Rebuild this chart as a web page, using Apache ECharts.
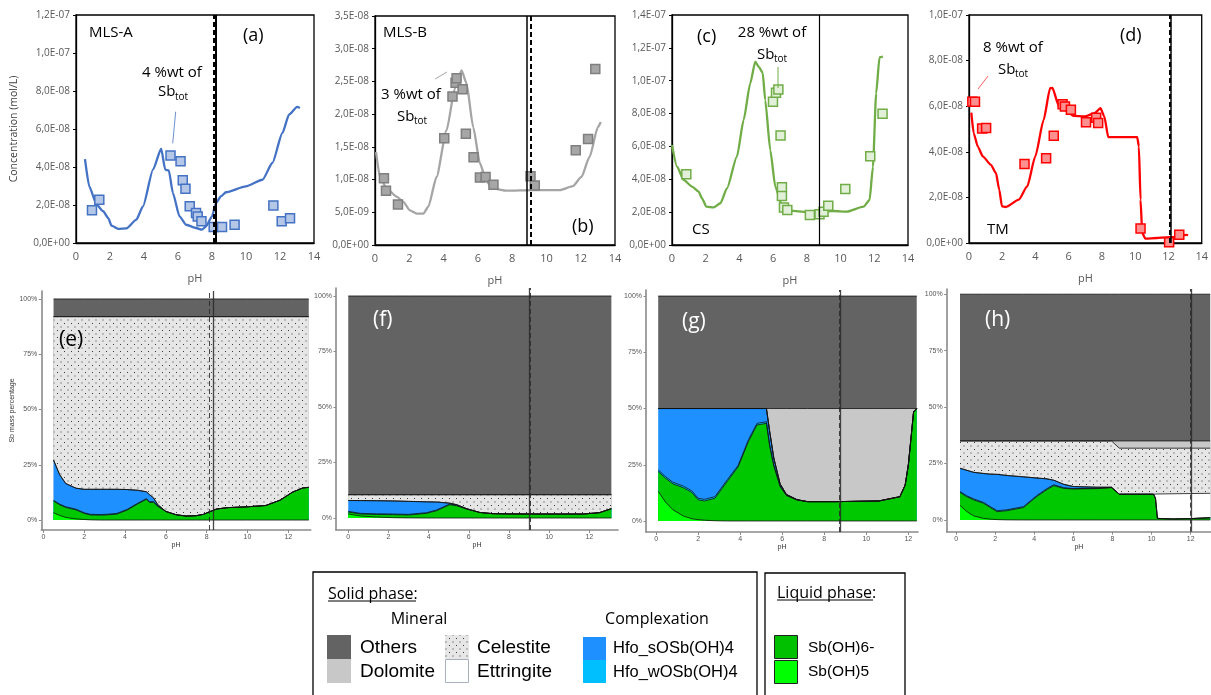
<!DOCTYPE html>
<html><head><meta charset="utf-8">
<script src="https://cdn.jsdelivr.net/npm/echarts@6/dist/echarts.min.js"></script>
<style>html,body{margin:0;padding:0;background:#fff}#c{width:1211px;height:695px}</style>
</head><body><div id="c"></div>
<script>
// ---------- Top panels: dissolved Sb (units of 1e-8 mol/L) ----------
const phLineA = [0.53,0.78,1.21,1.6,1.89,2.09,2.48,2.97,3.55,3.94,4.53,5.01,5.25,5.46,5.7,6.09,6.48,7.06,7.41,7.65,8.0,8.23,8.53,8.82,9.99,10.97,11.55,12.14,12.53,13.01,13.17];
const concLineA = [4.42,2.98,2.02,1.67,1.32,0.91,0.74,0.77,1.23,1.93,3.86,4.96,3.86,3.82,2.63,1.40,0.96,0.79,0.70,0.88,1.40,2.10,2.46,2.67,2.98,3.33,4.21,5.79,6.75,7.16,7.10];
const phObsA = [0.94,1.37,5.56,6.15,6.28,6.44,6.69,7.06,7.16,7.38,8.10,8.59,9.33,11.61,12.10,12.59];
const concObsA = [1.72,2.28,4.61,4.30,3.30,2.86,1.93,1.58,1.40,1.14,0.84,0.84,0.96,1.98,1.14,1.30];

const phLineB = [0.06,0.29,0.68,1.26,1.65,2.04,2.43,2.82,3.11,3.59,4.17,4.66,5.05,5.34,5.73,6.12,6.5,6.89,7.67,9.22,10.78,11.55,12.04,12.52,13.0,13.17];
const concLineB = [1.42,1.04,0.865,0.74,0.66,0.53,0.48,0.48,0.585,1.04,1.75,2.39,2.67,2.47,1.80,1.25,0.97,0.865,0.83,0.84,0.84,0.90,1.04,1.35,1.80,1.88];
const phObsB = [0.52,0.64,1.34,4.04,4.52,4.70,4.76,5.11,5.30,5.75,6.12,6.45,6.91,9.07,9.32,11.71,12.43,12.85];
const concObsB = [1.02,0.83,0.62,1.63,2.27,2.48,2.55,2.38,1.70,1.34,1.03,1.04,0.92,1.05,0.91,1.45,1.62,2.69];

const phLineC = [0,0.3,0.69,1.19,1.58,1.78,2.04,2.47,2.87,3.26,3.85,4.25,4.64,4.94,5.14,5.38,5.53,5.83,6.13,6.52,7.02,8.0,9.58,10.38,11.36,11.72,11.92,12.11,12.31,12.51];
const concLineC = [6.09,4.77,3.96,3.55,3.25,2.84,2.33,2.29,2.54,3.45,5.38,7.61,9.84,11.16,10.85,10.49,8.82,5.78,3.55,2.43,2.09,2.01,2.07,2.03,2.33,2.74,4.77,9.23,11.42,11.46];
const phObsC = [0.85,5.99,6.17,6.31,6.44,6.52,6.52,6.64,6.84,8.18,8.75,8.99,9.27,10.28,11.76,12.49];
const concObsC = [4.30,8.72,9.27,9.47,6.67,3.51,2.98,2.29,2.13,1.83,1.87,2.03,2.39,3.41,5.40,7.99];

const phLineD = [0.14,0.28,0.53,0.83,1.32,1.62,1.82,1.98,2.21,3.0,3.5,3.99,4.49,4.88,5.02,5.38,5.87,6.26,6.96,7.55,7.91,8.14,8.38,9.72,10.12,10.22,10.32,10.42,10.61,11.3,11.9,12.29,13.08,13.18];
const concLineD = [5.72,4.82,4.23,3.80,3.43,3.07,2.34,1.61,1.58,1.90,2.48,3.80,5.40,6.79,6.80,6.06,5.80,5.58,5.55,5.69,5.91,5.55,4.64,4.64,4.64,4.23,1.90,0.44,0.19,0.22,0.25,0.26,0.36,0.34];
const phObsD = [0.20,0.36,0.79,1.03,3.34,4.64,5.10,5.63,5.77,6.13,7.04,7.65,7.77,10.32,12.04,12.65];
const concObsD = [6.20,6.20,5.02,5.04,3.47,3.72,4.70,6.09,5.99,5.84,5.30,5.49,5.26,0.64,0.03,0.36];

// vertical reference lines (pH), panels a..h
const vlineSolid = [8.23, 8.83, 8.73, 12.13, 8.3, 9.0, 8.78, 12.02];
const vlineDashed = [8.1, 9.07, null, 12.06, 8.12, 9.08, 8.7, 11.97];

// ---------- Bottom panels: Sb mass percentage per phase (layer thickness, %) ----------
const layerNames = ['Sb(OH)5','Sb(OH)6-','Hfo_wOSb(OH)4','Hfo_sOSb(OH)4','Ettringite','Celestite','Dolomite','Others'];

const phE = [0.5,0.8,1.1,1.6,2.0,2.3,2.8,3.1,3.6,4.1,4.6,5.05,5.2,5.4,5.6,6.0,6.5,7.0,7.5,7.85,8.15,8.5,9.0,10.0,10.9,11.6,12.2,12.7,13.0];
const sb5E = [3.3,2.1,1.2,0.5,0.25,0.1,0,0,0,0,0,0,0,0,0,0,0,0,0,0,0,0,0,0,0,0,0,0,0];
const sb6E = [5.3,4.8,4.5,4.1,2.75,2.2,2.2,2.3,2.7,4.5,7.2,9.4,8.0,8.0,6.2,3.9,2.4,1.8,2.0,2.6,3.8,5.0,5.6,6.0,6.6,9.0,12.6,14.5,14.8];
const hfoWE = [0.3,0.3,0.3,0.3,0.3,0.3,0.3,0.3,0.3,0.3,0.3,0.3,0.3,0.3,0.3,0,0,0,0,0,0,0,0,0,0,0,0,0,0];
const hfoSE = [18.2,13.3,10.5,9.5,10.6,11.3,11.4,11.3,10.9,9.0,6.0,3.1,3.2,1.7,0.5,0,0,0,0,0,0,0,0,0,0,0,0,0,0];
const ettE = [0,0,0,0,0,0,0,0,0,0,0,0,0,0,0,0,0,0,0,0,0,0,0,0,0,0,0,0,0];
const celE = [64.9,71.5,75.5,77.6,78.1,78.1,78.1,78.1,78.1,78.2,78.5,79.2,80.5,82.0,85.0,88.1,89.6,90.2,90.0,89.4,88.2,87.0,86.4,86.0,85.4,83.0,79.4,77.5,77.2];
const dolE = [0,0,0,0,0,0,0,0,0,0,0,0,0,0,0,0,0,0,0,0,0,0,0,0,0,0,0,0,0];
const othE = [8,8,8,8,8,8,8,8,8,8,8,8,8,8,8,8,8,8,8,8,8,8,8,8,8,8,8,8,8];

const phF = [0,0.6,1.4,2.2,3.0,3.9,4.4,5.05,5.4,5.9,6.55,7.2,8.0,9.7,11.7,12.5,13.1];
const sb5F = [1.8,0.9,0.45,0.15,0.05,0,0,0,0,0,0,0,0,0,0,0,0];
const sb6F = [0.9,0.9,1.15,1.35,1.3,2.1,3.3,6.0,5.5,4.0,2.5,1.95,1.85,1.8,1.8,2.4,4.2];
const hfoWF = [0.3,0.3,0.3,0.3,0.3,0.3,0.3,0.3,0.3,0.1,0,0,0,0,0,0,0];
const hfoSF = [4.9,5.75,5.9,5.9,5.85,4.9,3.6,0.4,0.2,0.1,0,0,0,0,0,0,0];
const ettF = [0,0,0,0,0,0,0,0,0,0,0,0,0,0,0,0,0];
const celF = [2.6,2.65,2.7,2.8,3.0,3.2,3.3,3.8,4.5,6.3,8.0,8.55,8.65,8.7,8.7,8.1,6.3];
const dolF = [0,0,0,0,0,0,0,0,0,0,0,0,0,0,0,0,0];
const othF = [89.5,89.5,89.5,89.5,89.5,89.5,89.5,89.5,89.5,89.5,89.5,89.5,89.5,89.5,89.5,89.5,89.5];

const phG = [0.1,0.45,0.8,1.3,1.7,2.0,2.3,2.8,3.4,3.9,4.4,4.8,5.25,5.4,5.6,5.9,6.2,6.7,7.2,8.6,10.6,11.6,11.85,12.0,12.15,12.25,12.4];
const sb5G = [13.2,8.4,5.0,2.2,1.0,0.6,0.35,0.1,0,0,0,0,0,0,0,0,0,0,0,0,0,0,0,0,0,0,0];
const sb6G = [8.8,10.6,11.5,12.6,11.7,8.8,8.55,10.0,17.8,24.0,35.5,42.7,43.4,33.5,24.5,15.3,11.3,9.3,8.6,8.6,8.9,10.8,16.0,24.9,39.0,48.5,50.0];
const hfoWG = [0.7,0.7,0.7,0.7,0.7,0.7,0.7,0.7,0.7,0.7,0.7,0.7,0.7,0.5,0.4,0.3,0.2,0.1,0,0,0,0,0,0,0,0,0];
const hfoSG = [27.3,30.3,32.8,34.5,36.6,39.9,40.4,39.2,31.5,25.3,13.8,6.6,5.9,6.0,3.1,0.9,0.3,0.1,0,0,0,0,0,0,0,0,0];
const ettG = [0,0,0,0,0,0,0,0,0,0,0,0,0,0,0,0,0,0,0,0,0,0,0,0,0,0,0];
const celG = [0,0,0,0,0,0,0,0,0,0,0,0,0,0,0,0,0,0,0,0,0,0,0,0,0,0,0];
const dolG = [0,0,0,0,0,0,0,0,0,0,0,0,0,10.0,22.0,33.5,38.2,40.5,41.4,41.4,41.1,39.2,34.0,25.1,11.0,1.5,0];
const othG = [50,50,50,50,50,50,50,50,50,50,50,50,50,50,50,50,50,50,50,50,50,50,50,50,50,50,50];

const phH = [0.2,0.55,0.9,1.4,1.75,2.1,2.6,3.45,4.1,4.65,5.0,5.5,6.0,7.2,7.95,8.35,10.1,10.2,10.3,11.1,12.0,13.0];
const sb5H = [6.5,3.7,1.8,0.7,0.35,0.15,0.05,0,0,0,0,0,0,0,0,0,0,0,0,0,0,0];
const sb6H = [5.7,6.6,7.1,6.7,5.15,3.55,4.05,5.5,10.2,13.5,15.2,14.0,13.7,13.9,14.3,11.4,11.4,9.6,0.7,0.45,0.6,1.0];
const hfoWH = [0.4,0.4,0.4,0.4,0.4,0.4,0.4,0.4,0.4,0.4,0.4,0.3,0.2,0.1,0.1,0,0,0,0,0,0,0];
const hfoSH = [10.3,11.3,11.8,12.8,14.4,16.1,15.2,13.2,8.0,4.3,2.0,1.5,0.9,0.5,0.1,0,0,0,0,0,0,0];
const ettH = [0,0,0,0,0,0,0,0,0,0,0,0,0,0,0,0,0,1.8,10.8,11.15,11.1,10.8];
const celH = [12.1,13.0,13.9,14.4,14.7,14.8,15.3,15.9,16.4,16.8,17.4,19.2,20.2,20.5,20.5,20.4,20.4,20.4,20.3,20.2,20.1,20.0];
const dolH = [0,0,0,0,0,0,0,0,0,0,0,0,0,0,0,3.2,3.2,3.2,3.2,3.2,3.2,3.2];
const othH = [65,65,65,65,65,65,65,65,65,65,65,65,65,65,65,65,65,65,65,65,65,65];

const xTicksBottom = [0,2,4,6,8,10,12];
const yTicksBottom = [0,25,50,75,100];

// ---------- styling ----------
const dotCanvas = document.createElement('canvas');
dotCanvas.width = 7; dotCanvas.height = 7;
(function(){ const g = dotCanvas.getContext('2d'); g.fillStyle = '#e6e6e6'; g.fillRect(0,0,7,7);
  g.fillStyle = '#3a3a3a'; g.fillRect(1,1,1,1); g.fillRect(4.5,4.5,1,1); })();
const celPattern = {image: dotCanvas, repeat: 'repeat'};
const layerColors = ['#00ff00','#00c800','#00bfff','#1e90ff','#ffffff',celPattern,'#c8c8c8','#636363'];

const FONT = '"Open Sans", sans-serif';
const ARIAL = '"Liberation Sans", Arial, sans-serif';

function fmtE(v){
  if (Math.abs(v) < 1e-9) return '0,0E+00';
  const s = (v*1e-8).toExponential(1);
  const parts = s.split('e');
  const e = parseInt(parts[1],10);
  return parts[0].replace('.',',') + 'E' + (e<0?'-':'+') + String(Math.abs(e)).padStart(2,'0');
}

const topPanels = [
  {grid:{left:76,top:15,width:238,height:228}, ymax:12, yint:2, lph:phLineA, lc:concLineA, oph:phObsA, oc:concObsA, lineColor:'#4472c4', fill:'#b4c7e7', border:'#4472c4', yname:'Concentration (mol/L)', solidW:2, dashW:2},
  {grid:{left:375,top:16,width:240,height:229}, ymax:3.5, yint:0.5, lph:phLineB, lc:concLineB, oph:phObsB, oc:concObsB, lineColor:'#a5a5a5', fill:'#a6a6a6', border:'#7f7f7f', yname:'', solidW:1.5, dashW:2},
  {grid:{left:672,top:15,width:236,height:230}, ymax:14, yint:2, lph:phLineC, lc:concLineC, oph:phObsC, oc:concObsC, lineColor:'#70ad47', fill:'#e2f0d9', border:'#70ad47', yname:'', solidW:1.2, dashW:2},
  {grid:{left:969,top:15,width:236,height:228}, ymax:10, yint:2, lph:phLineD, lc:concLineD, oph:phObsD, oc:concObsD, lineColor:'#ff0000', fill:'#ff9090', border:'#ff0000', yname:'', solidW:1.5, dashW:2}
];
const bottomPanels = [
  {grid:{left:41.3,top:291,width:269.5,height:239}, xmin:-0.1, xmax:13.1, ymin:-4.5, ymax:103.6, ph:phE, layers:[sb5E,sb6E,hfoWE,hfoSE,ettE,celE,dolE,othE], yname:'Sb mass percentage'},
  {grid:{left:336,top:288,width:282,height:242}, xmin:-0.61, xmax:13.43, ymin:-5.4, ymax:103.6, ph:phF, layers:[sb5F,sb6F,hfoWF,hfoSF,ettF,celF,dolF,othF], yname:''},
  {grid:{left:646,top:290,width:272,height:242}, xmin:-0.48, xmax:12.46, ymin:-4.9, ymax:102.7, ph:phG, layers:[sb5G,sb6G,hfoWG,hfoSG,ettG,celG,dolG,othG], yname:''},
  {grid:{left:946.7,top:289,width:264.5,height:242.7}, xmin:-0.48, xmax:13.04, ymin:-5.2, ymax:102.3, ph:phH, layers:[sb5H,sb6H,hfoWH,hfoSH,ettH,celH,dolH,othH], yname:''}
];

const grids = [], xAxes = [], yAxes = [], series = [];

function vMark(i, solidW, dashW, solidColor, dashColor){
  const d = [];
  if (vlineDashed[i] != null) d.push({xAxis: vlineDashed[i], lineStyle:{type:[5,3], width:dashW, color:dashColor}});
  if (vlineSolid[i] != null) d.push({xAxis: vlineSolid[i], lineStyle:{type:'solid', width:solidW, color:solidColor}});
  return {silent:true, symbol:['none','none'], label:{show:false}, animation:false, data:d};
}

topPanels.forEach((p, i) => {
  grids.push(Object.assign({show:true, borderColor:'#000', borderWidth:1.3, backgroundColor:'transparent'}, p.grid));
  xAxes.push({type:'value', gridIndex:i, min:0, max:14, interval:2,
    axisLine:{show:true, lineStyle:{color:'#000', width:1.3}}, axisTick:{show:false}, splitLine:{show:false},
    axisLabel:{fontSize:11, color:'#595959', fontFamily:FONT, margin:8},
    name:'pH', nameLocation:'middle', nameGap:30, nameTextStyle:{fontSize:11, color:'#595959', fontFamily:FONT}});
  yAxes.push({type:'value', gridIndex:i, min:0, max:p.ymax, interval:p.yint,
    axisLine:{show:true, lineStyle:{color:'#000', width:1.3}}, axisTick:{show:true, length:3, lineStyle:{color:'#000'}}, splitLine:{show:false},
    axisLabel:{fontSize:10, color:'#595959', fontFamily:FONT, margin:6, formatter:fmtE},
    name:p.yname, nameLocation:'middle', nameGap:56, nameTextStyle:{fontSize:10.5, color:'#404040', fontFamily:FONT}});
  series.push({type:'line', xAxisIndex:i, yAxisIndex:i, data:p.lph.map((x,k)=>[x,p.lc[k]]),
    showSymbol:false, symbol:'none', smooth:0.2, smoothMonotone:'x', lineStyle:{color:p.lineColor, width:2.3}, z:3,
    markLine: vMark(i, p.solidW, p.dashW, '#000', '#000')});
  series.push({type:'scatter', xAxisIndex:i, yAxisIndex:i, data:p.oph.map((x,k)=>[x,p.oc[k]]),
    symbol:'rect', symbolSize:9, itemStyle:{color:p.fill, borderColor:p.border, borderWidth:1.5, opacity:1}, z:4});
});

bottomPanels.forEach((p, j) => {
  const i = j + 4;
  grids.push(p.grid);
  xAxes.push({type:'value', gridIndex:i, min:p.xmin, max:p.xmax,
    axisLine:{show:true, onZero:false, lineStyle:{color:'#8a8a8a', width:1.6}},
    axisTick:{show:true, length:3, customValues:xTicksBottom, lineStyle:{color:'#8a8a8a'}},
    axisLabel:{fontSize:7, color:'#555', fontFamily:ARIAL, margin:4, customValues:xTicksBottom}, splitLine:{show:false},
    name:'pH', nameLocation:'middle', nameGap:12, nameTextStyle:{fontSize:7, color:'#333', fontFamily:ARIAL}});
  yAxes.push({type:'value', gridIndex:i, min:p.ymin, max:p.ymax,
    axisLine:{show:true, onZero:false, lineStyle:{color:'#8a8a8a', width:1.6}},
    axisTick:{show:true, length:2.5, customValues:yTicksBottom, lineStyle:{color:'#8a8a8a'}},
    axisLabel:{fontSize:7, color:'#555', fontFamily:ARIAL, margin:4, customValues:yTicksBottom, formatter: v => Math.round(v) + '%'},
    splitLine:{show:false},
    name:p.yname, nameLocation:'middle', nameGap:17, nameTextStyle:{fontSize:7, color:'#333', fontFamily:ARIAL}});
  // cumulative tops, drawn from the top layer downwards
  const n = p.ph.length;
  let run = new Array(n).fill(0);
  const tops = p.layers.map(arr => { run = run.map((v,k) => v + arr[k]); return run.slice(); });
  for (let L = tops.length - 1; L >= 0; L--) {
    const s = {type:'line', name:layerNames[L], xAxisIndex:i, yAxisIndex:i,
      data:p.ph.map((x,k)=>[x, tops[L][k]]), showSymbol:false, symbol:'none',
      lineStyle:{color:'#111', width:0.8}, areaStyle:{color:layerColors[L], opacity:1}, z:2};
    if (L === 0) s.markLine = vMark(i, 1.3, 1, 'rgba(40,40,40,0.85)', 'rgba(40,40,40,0.85)');
    series.push(s);
  }
});

// ---------- annotations & legend ----------
function T(x, y, text, size, color, opt){
  opt = opt || {};
  return {type:'text', x:x, y:y, z:100, silent:true, style:{text:text, fontSize:size, fontFamily:opt.family||FONT,
    fill:color||'#000', align:opt.align||'left', verticalAlign:'middle'}};
}
function Ln(x1,y1,x2,y2,color,w){ return {type:'line', z:100, silent:true, shape:{x1,y1,x2,y2}, style:{stroke:color, lineWidth:w||1}}; }
function R(x,y,w,h,fill,stroke,lw){ return {type:'rect', z:100, silent:true, shape:{x,y,width:w,height:h}, style:{fill:fill, stroke:stroke||null, lineWidth:lw||0}}; }

const graphic = [
  // panel (a)
  T(89,33,'MLS-A',15,'#000'), T(243,36,'(a)',18,'#000'),
  T(172,73,'4 %wt of',15,'#000',{align:'center'}), T(158,92,'Sb',15,'#000'), T(175,97,'tot',10,'#000'),
  Ln(175.7,111.7,172.7,143.3,'#6d8fd0',1),
  // panel (b)
  T(383,33,'MLS-B',15,'#000'), T(572,227,'(b)',18,'#000'),
  T(411,95,'3 %wt of',15,'#000',{align:'center'}), T(397,117,'Sb',15,'#000'), T(414,121,'tot',10,'#000'),
  Ln(435,79,447,72,'#a5a5a5',1),
  // panel (c)
  T(697,37,'(c)',18,'#000'), T(692,230,'CS',15,'#000'),
  T(772,33,'28 %wt of',15,'#000',{align:'center'}), T(757,55,'Sb',15,'#000'), T(774,59,'tot',10,'#000'),
  Ln(778,67,778,88,'#70ad47',1),
  // panel (d)
  T(1120,36,'(d)',18,'#000'), T(987,230,'TM',15,'#000'),
  T(1013,48,'8 %wt of',15,'#000',{align:'center'}), T(998,70,'Sb',15,'#000'), T(1015,74,'tot',10,'#000'),
  Ln(988,76,978,89,'#ff6060',1),
  // bottom labels
  T(59,340,'(e)',21,'#000'), T(373,320,'(f)',21,'#fff'), T(682,322,'(g)',21,'#fff'), T(985,320,'(h)',21,'#fff'),
  // legend box 1
  R(313,572,444,130,'#fff','#000',1.3),
  T(328,594,'Solid phase:',16,'#000'), Ln(328,601,416,601,'#000',1),
  T(419,619,'Mineral',16,'#000',{align:'center'}), T(657,619,'Complexation',16,'#000',{align:'center'}),
  R(327,635,24,24,'#636363'), R(327,659,24,24,'#c8c8c8'),
  T(360,648,'Others',19,'#000',{family:ARIAL}), T(360,672,'Dolomite',19,'#000',{family:ARIAL}),
  R(445,635,24,24,celPattern), R(445.5,659.5,23,23,'#fff','#a8b0c0',1),
  T(477,648,'Celestite',19,'#000',{family:ARIAL}), T(477,672,'Ettringite',19,'#000',{family:ARIAL}),
  R(583,637,23,23,'#1e90ff'), R(583,660,23,23,'#00bfff'),
  T(613,648,'Hfo_sOSb(OH)4',16.5,'#000',{family:ARIAL}), T(613,672,'Hfo_wOSb(OH)4',16.5,'#000',{family:ARIAL}),
  // legend box 2
  R(765,573,140,130,'#fff','#000',1.3),
  T(777,593,'Liquid phase:',16,'#000'), Ln(777,600,873,600,'#000',1),
  R(774.5,635.5,23,23,'#00c000','#222',1), R(774.5,660.5,23,23,'#00ff00','#222',1),
  T(808,648,'Sb(OH)6-',15.5,'#000',{family:ARIAL}), T(808,672,'Sb(OH)5',15.5,'#000',{family:ARIAL})
];

const chart = echarts.init(document.getElementById('c'), null, {renderer:'canvas'});
chart.setOption({animation:false, backgroundColor:'#fff', grid:grids, xAxis:xAxes, yAxis:yAxes, series:series, graphic:graphic});
</script></body></html>
